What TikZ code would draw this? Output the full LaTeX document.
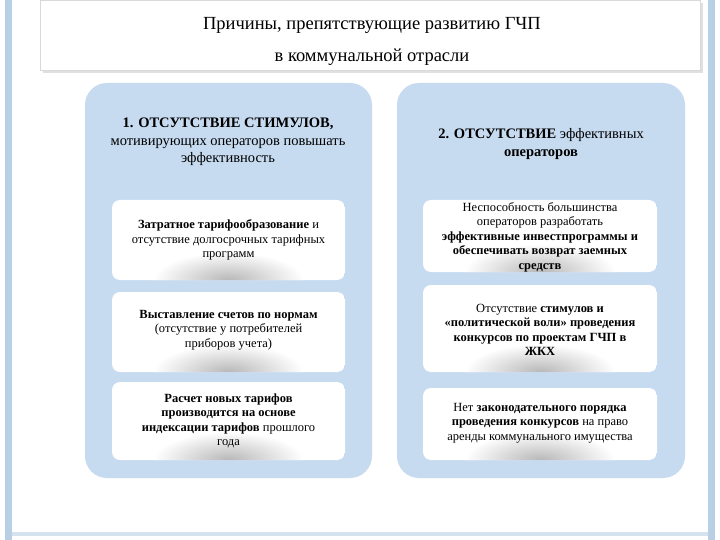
\documentclass[tikz,border=0pt]{standalone}
\usepackage{fontspec}
\setmainfont{Liberation Serif}
\definecolor{colbg}{HTML}{C6DAF0}
\definecolor{frame}{HTML}{B9CFE6}
\tikzset{
 col/.style={fill=colbg,rounded corners=22pt,draw=none},
 itembox/.style={fill=white,rounded corners=8pt,draw=none},
 itemtxt/.style={font=\fontsize{12.5}{14.5}\selectfont,align=center,inner sep=0pt},
 headtxt/.style={font=\fontsize{14.5}{17.5}\selectfont,align=center,inner sep=0pt},
}
\newcommand{\shadebox}[4]{% x1 y1 x2 y2
 \begin{scope}
 \clip[rounded corners=8pt] (#1,#2) rectangle (#3,#4);
 \fill[itembox] (#1,#2) rectangle (#3,#4);
 \shade[inner color=black!28,outer color=white] ({(#1+#3)/2},#4) ellipse (75pt and 28pt);
 \end{scope}}
\begin{document}
\begin{tikzpicture}[x=1pt,y=-1pt]
\useasboundingbox (0,0) rectangle (720,540);
\fill[white] (0,0) rectangle (720,540);
\fill[frame] (5,0) rectangle (12,540);
\fill[frame] (708,0) rectangle (715,540);
\fill[frame!60] (12,532) rectangle (708,536);
% title
\fill[black!12] (43,3) rectangle (703,73);
\fill[white,draw=black!15] (40,0) rectangle (700,70);
\node[font=\fontsize{18.5}{20}\selectfont] (t1) at (372,25) {Причины, препятствующие развитию ГЧП};
\node[font=\fontsize{18.5}{20}\selectfont] (t2) at (372,57) {в коммунальной отрасли};
% columns
\fill[col] (85,83) rectangle (372,478);
\fill[col] (397,83) rectangle (685,478);
\node[headtxt] (h1) at (228,142) {\textbf{1. ОТСУТСТВИЕ СТИМУЛОВ,}\\мотивирующих операторов повышать\\эффективность};
\node[headtxt] (h2) at (541,144) {\textbf{2. ОТСУТСТВИЕ} эффективных\\\textbf{операторов}};
% boxes
\shadebox{112}{200}{345}{280}
\shadebox{112}{292}{345}{372}
\shadebox{112}{382}{345}{460}
\shadebox{423}{200}{657}{272}
\shadebox{423}{285}{657}{372}
\shadebox{423}{388}{657}{460}
\node[itemtxt] (a1) at (228.5,240) {\textbf{Затратное тарифообразование} и\\отсутствие долгосрочных тарифных\\программ};
\node[itemtxt] (a2) at (228.5,330) {\textbf{Выставление счетов по нормам}\\(отсутствие у потребителей\\приборов учета)};
\node[itemtxt] (a3) at (228.5,421) {\textbf{Расчет новых тарифов}\\\textbf{производится на основе}\\\textbf{индексации тарифов} прошлого\\года};
\node[itemtxt] (b1) at (540,237) {Неспособность большинства\\операторов разработать\\\textbf{эффективные инвестпрограммы и}\\\textbf{обеспечивать возврат заемных}\\\textbf{средств}};
\node[itemtxt] (b2) at (540,330) {Отсутствие \textbf{стимулов и}\\\textbf{«политической воли» проведения}\\\textbf{конкурсов по проектам ГЧП в}\\\textbf{ЖКХ}};
\node[itemtxt] (b3) at (540,423) {Нет \textbf{законодательного порядка}\\\textbf{проведения конкурсов} на право\\аренды коммунального имущества};
\end{tikzpicture}
\end{document}
